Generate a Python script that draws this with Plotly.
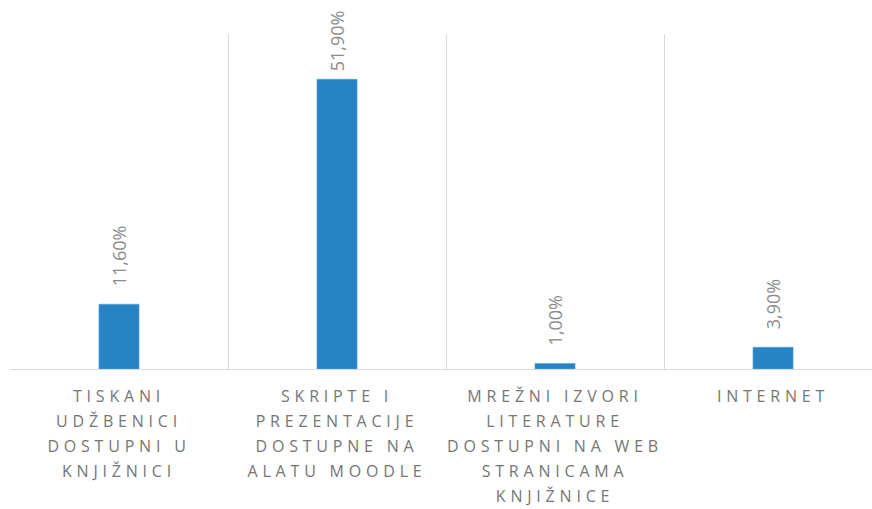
import plotly.graph_objects as go

categories = [
    "TISKANI<br>UDŽBENICI<br>DOSTUPNI U<br>KNJIŽNICI",
    "SKRIPTE I<br>PREZENTACIJE<br>DOSTUPNE NA<br>ALATU MOODLE",
    "MREŽNI IZVORI<br>LITERATURE<br>DOSTUPNI NA WEB<br>STRANICAMA<br>KNJIŽNICE",
    "INTERNET",
]
values = [11.6, 51.9, 1.0, 3.9]
labels = ["11,60%", "51,90%", "1,00%", "3,90%"]

fig = go.Figure(go.Bar(
    x=categories,
    y=values,
    text=labels,
    textposition="outside",
    textangle=-90,
    constraintext="none",
    cliponaxis=False,
    textfont=dict(family="Open Sans", size=18, color="#8c8c8c"),
    marker=dict(color="#2783c4", line=dict(color="#5aa3d6", width=0.6)),
    width=0.184,
))

fig.update_layout(
    width=872, height=509,
    margin=dict(l=10, r=0, t=34, b=140),
    plot_bgcolor="white", paper_bgcolor="white",
    showlegend=False,
    xaxis=dict(
        range=[-0.5, 3.454],
        tickson="boundaries",
        showgrid=True, gridcolor="#d9d9d9", gridwidth=1,
        showline=True, linecolor="#d9d9d9", linewidth=1,
        ticks="", ticklen=0,
        ticklabelstandoff=13,
        tickfont=dict(family="Open Sans", size=16, color="#767676"),
        tickangle=0,
    ),
    yaxis=dict(
        range=[0, 60],
        showgrid=False, zeroline=False, showticklabels=False, showline=False,
    ),
)

post = """
document.body.style.margin='0';
document.querySelectorAll('.xtick text').forEach(function(t){
  t.style.letterSpacing='4.8px';
  t.querySelectorAll('tspan.line').forEach(function(s){
    var d = s.getAttribute('dy');
    if (d && d.indexOf('em') > 0) {
      var v = parseFloat(d);
      s.setAttribute('dy', (v * 1.2) + 'em');
    }
  });
});
var shifts = [-15, -5, -15, -15];
document.querySelectorAll('text.bartext').forEach(function(t, i){
  var tr = t.getAttribute('transform') || '';
  var dy = (i < shifts.length) ? shifts[i] : -15;
  t.setAttribute('transform', 'translate(0,' + dy + ') ' + tr);
});
"""
fig.write_html("out.html", post_script=post, config={"displayModeBar": False})
